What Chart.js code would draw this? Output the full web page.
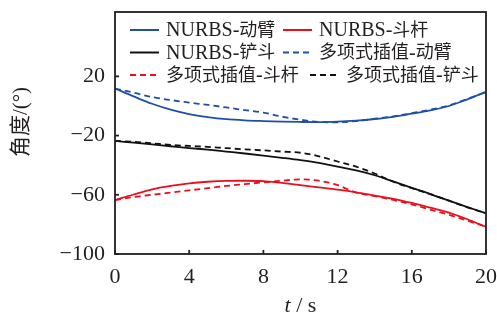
<!DOCTYPE html>
<html>
<head>
<meta charset="utf-8">
<script src="https://cdn.jsdelivr.net/npm/chart.js@4.4.0/dist/chart.umd.min.js"></script>
<style>
  html, body { margin: 0; padding: 0; background: #fff; }
  #wrap { width: 497px; height: 320px; position: relative; }
</style>
</head>
<body>
<div id="wrap"><canvas id="chart"></canvas></div>
<script>
// time (s)
const times = [0,1,2,3,4,5,6,7,8,9,10,11,12,13,14,15,16,17,18,19,20];

// joint angles (deg)
const boomNurbs   = [11.8,6.5,1.5,-2.5,-5.5,-7.5,-8.9,-9.7,-10.2,-10.6,-10.8,-10.9,-10.6,-9.9,-8.8,-7.3,-5.2,-3.0,0,4.5,9.5];
const stickNurbs  = [-63.6,-59.8,-56.3,-54,-52.3,-51.2,-50.6,-50.5,-50.7,-52,-53.5,-55,-56.5,-58.3,-60.5,-62.7,-65.5,-68.7,-72,-76.5,-81.6];
const bucketNurbs = [-23.6,-24.8,-26,-27.2,-28.4,-29.5,-30.8,-32.1,-33.5,-35,-36.6,-38.5,-41,-43.5,-46.8,-51,-55.3,-59.5,-64,-68.3,-72.5];
const boomPoly    = [11.8,9,6,4,2.3,0.7,-1,-2.8,-4.5,-7.2,-9.3,-10.8,-11,-10.2,-8.6,-7,-4.8,-2.5,0.4,4.8,9.5];
const stickPoly   = [-63.6,-61.5,-60,-58.5,-57,-55.5,-54,-52.8,-51.6,-50.5,-49.6,-50.5,-53.5,-58.5,-60.9,-63.5,-66.5,-70,-73.5,-77.5,-81.6];
const bucketPoly  = [-23.6,-24.2,-25.2,-26.3,-27,-27.6,-28.5,-29.3,-30,-30.8,-31.6,-34,-37.5,-41,-45.6,-51.2,-55.5,-59.5,-64,-68.5,-72.5];

const seriesNames = ["NURBS-动臂","NURBS-斗杆","NURBS-铲斗","多项式插值-动臂","多项式插值-斗杆","多项式插值-铲斗"];
const xTicks = [0,4,8,12,16,20];
const yTicks = [-100,-60,-20,20];

const BLUE = "#1f50a6", RED = "#e8101e", BLACK = "#111111", INK = "#231f20";
const FONT = "'Liberation Serif', 'Noto Sans CJK SC', serif";

function pts(ys) {
  return times.map((t, i) => ({ x: t, y: ys[i] }));
}

function line(label, ys, color, dashed) {
  return {
    label: label,
    data: pts(ys),
    borderColor: color,
    borderWidth: 1.8,
    borderDash: dashed ? [6, 4] : [],
    pointRadius: 0,
    fill: false,
    tension: 0.4,
    cubicInterpolationMode: "monotone"
  };
}

function fmt(v) {
  return v < 0 ? "\u2212" + Math.abs(v) : String(v);
}

// write a label, latin runs in one size and CJK runs in another
function mixedText(c, text, x, y, latinSize, cjkSize) {
  const parts = text.match(/[\u4e00-\u9fff]+|[^\u4e00-\u9fff]+/g);
  parts.forEach(p => {
    const cjk = /[\u4e00-\u9fff]/.test(p);
    c.font = (cjk ? cjkSize : latinSize) + "px " + FONT;
    c.fillText(p, x, y);
    x += c.measureText(p).width;
  });
}

// box, inside ticks, legend and axis titles
const decor = {
  id: "decor",
  afterDatasetsDraw(chart) {
    const c = chart.ctx, a = chart.chartArea;
    const xs = chart.scales.x, ys = chart.scales.y;
    c.save();
    c.strokeStyle = INK;
    c.lineWidth = 1.8;
    c.setLineDash([]);
    c.strokeRect(a.left, a.top, a.right - a.left, a.bottom - a.top);
    yTicks.forEach(v => {
      const y = ys.getPixelForValue(v);
      c.beginPath(); c.moveTo(a.left, y); c.lineTo(a.left + 4, y); c.stroke();
    });
    xTicks.forEach(v => {
      const x = xs.getPixelForValue(v);
      c.beginPath(); c.moveTo(x, a.bottom); c.lineTo(x, a.bottom - 4); c.stroke();
    });

    // legend: three rows of two
    const rows = [[0, 1], [2, 3], [4, 5]];
    const rowY = [30, 52.5, 75];
    const colX = [[130, 283], [130, 283], [130, 310]];
    c.textBaseline = "middle";
    c.textAlign = "left";
    rows.forEach((r, ri) => {
      r.forEach((di, ci) => {
        const ds = chart.data.datasets[di];
        const x0 = colX[ri][ci], y = rowY[ri];
        c.strokeStyle = ds.borderColor;
        c.lineWidth = 2;
        c.setLineDash(ds.borderDash.length ? [6, 4] : []);
        c.beginPath(); c.moveTo(x0, y); c.lineTo(x0 + 29, y); c.stroke();
        c.setLineDash([]);
        c.fillStyle = INK;
        mixedText(c, ds.label, x0 + 36, y + 1, 20, 18);
      });
    });

    // y title, rotated
    c.save();
    c.translate(21, 122);
    c.rotate(-Math.PI / 2);
    c.textAlign = "center";
    c.font = "21px " + FONT;
    c.fillText("角度/(°)", 0, 0);
    c.restore();

    // x title "t / s"
    const cx = (a.left + a.right) / 2;
    c.textAlign = "left";
    c.font = "italic 22px " + FONT;
    const w1 = c.measureText("t").width;
    c.font = "22px " + FONT;
    const w2 = c.measureText(" / s").width;
    const x = cx - (w1 + w2) / 2;
    c.font = "italic 22px " + FONT;
    c.fillText("t", x, 306);
    c.font = "22px " + FONT;
    c.fillText(" / s", x + w1, 306);
    c.restore();
  }
};

new Chart(document.getElementById("chart"), {
  type: "line",
  data: {
    datasets: [
      line(seriesNames[0], boomNurbs, BLUE, false),
      line(seriesNames[1], stickNurbs, RED, false),
      line(seriesNames[2], bucketNurbs, BLACK, false),
      line(seriesNames[3], boomPoly, BLUE, true),
      line(seriesNames[4], stickPoly, RED, true),
      line(seriesNames[5], bucketPoly, BLACK, true)
    ]
  },
  options: {
    responsive: true,
    maintainAspectRatio: false,
    animation: false,
    layout: { padding: { left: 0, right: 11, top: 12, bottom: 0 } },
    plugins: { legend: { display: false }, tooltip: { enabled: false } },
    scales: {
      x: {
        type: "linear",
        min: 0, max: 20,
        afterBuildTicks: s => { s.ticks = xTicks.map(v => ({ value: v })); },
        afterFit: s => { s.height = 66; s.paddingLeft = 0; s.paddingRight = 0; },
        grid: { display: false, drawTicks: false },
        border: { display: false },
        ticks: { color: INK, padding: 10, maxRotation: 0, font: { family: FONT, size: 22 } }
      },
      y: {
        type: "linear",
        min: -100, max: 63.5,
        afterBuildTicks: s => { s.ticks = yTicks.map(v => ({ value: v })); },
        afterFit: s => { s.width = 115; s.paddingTop = 0; s.paddingBottom = 0; },
        grid: { display: false, drawTicks: false },
        border: { display: false },
        ticks: { color: INK, padding: 10, callback: v => fmt(v), font: { family: FONT, size: 22 } }
      }
    }
  },
  plugins: [decor]
});
</script>
</body>
</html>
